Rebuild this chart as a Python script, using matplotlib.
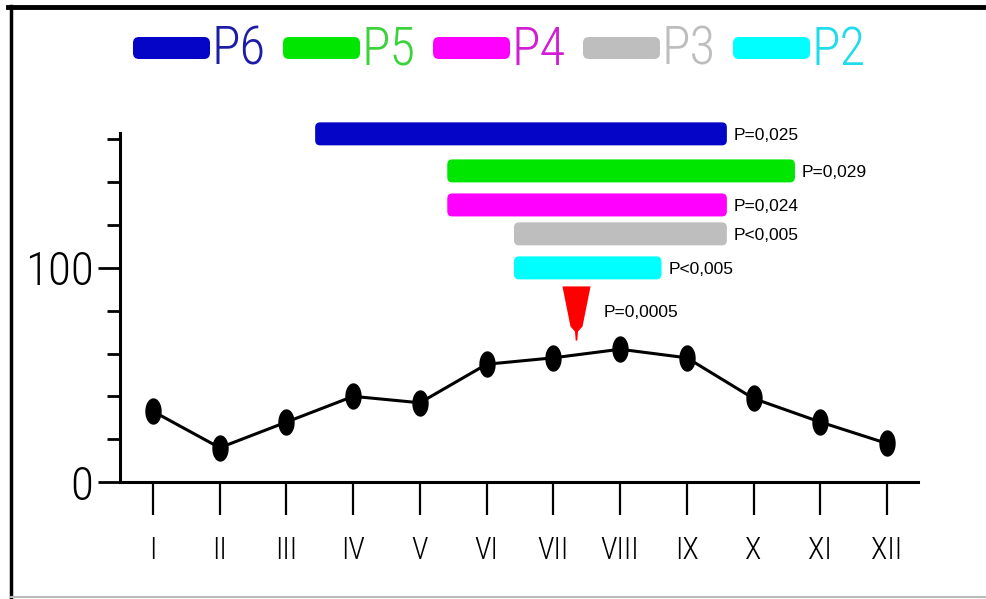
import numpy as np
import matplotlib
matplotlib.use("Agg")
import matplotlib.pyplot as plt
from matplotlib.lines import Line2D
from matplotlib.patches import FancyBboxPatch
from matplotlib.transforms import Affine2D
from matplotlib.ticker import MultipleLocator

W, H = 987, 599
NARROW = ["Roboto Condensed", "Archivo Narrow", "Liberation Sans", "DejaVu Sans"]

# monthly curve
months = ["I", "II", "III", "IV", "V", "VI", "VII", "VIII", "IX", "X", "XI", "XII"]
values = [33, 16, 28, 40, 37, 55, 58, 62, 58, 39, 28, 18]

# period bars (month units along x, level on y)
bar_names = ["P6", "P5", "P4", "P3", "P2"]
bar_start = [3.43, 5.41, 5.41, 6.41, 6.41]
bar_end = [9.60, 10.62, 9.60, 9.60, 8.62]
bar_level = [162.6, 145.3, 129.4, 115.9, 100.0]
bar_pvals = ["P=0,025", "P=0,029", "P=0,024", "P<0,005", "P<0,005"]
bar_colors = ["#0505C8", "#00E600", "#FF00FF", "#BEBEBE", "#00FFFF"]
legend_text_colors = ["#1C1CA8", "#3BD23B", "#D21ED2", "#BDBDBD", "#1FDCEB"]

# red marker
peak_month = 7.34
peak_level = 79.0
peak_label = "P=0,0005"

fig = plt.figure(figsize=(W / 100, H / 100), dpi=100)

# pixel transform (origin top-left)
px = Affine2D().scale(1 / W, -1 / H).translate(0, 1) + fig.transFigure

ax = fig.add_axes([120 / W, 117 / H, (918 - 120) / W, (482 - 133) / H])
x = np.arange(1, len(months) + 1)
ax.set_xlim(0.5055, 12.464)
ax.set_ylim(0, 163)

# data-unit per pixel ratio for rounded bars
x_per_px = (12.464 - 0.5055) / (918 - 120)
y_per_px = 163 / (482 - 133)
aspect = y_per_px / x_per_px

ell = [(0.6 * np.cos(t), np.sin(t)) for t in np.linspace(0, 2 * np.pi, 40)]
ax.plot(x, values, color="black", lw=2.2, marker=ell, markersize=18,
        markerfacecolor="black", markeredgecolor="black", zorder=3)

bar_h = 23 * y_per_px
for s, e, lv, c, p in zip(bar_start, bar_end, bar_level, bar_colors, bar_pvals):
    patch = FancyBboxPatch((s, lv - bar_h / 2), e - s, bar_h,
                           boxstyle="round,pad=0,rounding_size=%f" % (5 * x_per_px),
                           mutation_aspect=aspect, facecolor=c, edgecolor="none",
                           clip_on=False, zorder=2)
    ax.add_patch(patch)
    ax.annotate(p, (e, lv), xytext=(5, -1), textcoords="offset points",
                ha="left", va="center", fontsize=12.5, family="Liberation Sans",
                annotation_clip=False)

funnel = [(-14, 27), (14, 27), (6, -13), (1.5, -18), (0.8, -27), (-0.8, -27),
          (-1.5, -18), (-6, -13), (-14, 27)]
ax.plot([peak_month], [peak_level], marker=funnel, markersize=39,
        color="#FF0000", markeredgewidth=0, linestyle="none", zorder=4)
ax.annotate(peak_label, (peak_month, peak_level), xytext=(20, 0),
            textcoords="offset points", ha="left", va="center", fontsize=12.5,
            family="Liberation Sans", annotation_clip=False)

# axes styling
for sp in ["top", "right"]:
    ax.spines[sp].set_visible(False)
for sp in ["left", "bottom"]:
    ax.spines[sp].set_linewidth(2.2)
ax.set_xticks(x)
ax.set_xticklabels(months, family=NARROW, fontsize=22, fontweight="light")
ax.tick_params(axis="x", direction="out", length=24, width=1.6, pad=15)
ax.set_yticks([0, 100])
ax.set_yticklabels(["0", "100"], family=NARROW, fontsize=34, fontweight="light")
ax.yaxis.set_minor_locator(MultipleLocator(20))
ax.tick_params(axis="y", which="major", direction="out", length=16, width=2, pad=3)
ax.tick_params(axis="y", which="minor", direction="out", length=9.5, width=2)

# legend drawn across the top
leg_x0 = 133
for i, (n, c, tc) in enumerate(zip(bar_names, bar_colors, legend_text_colors)):
    lx = leg_x0 + i * 150
    fig.add_artist(FancyBboxPatch((lx, 37), 77, 22,
                                  boxstyle="round,pad=0,rounding_size=6",
                                  transform=px, facecolor=c, edgecolor="none"))
    fig.text(lx + 79, 50, n, transform=px, color=tc, family=NARROW,
             fontsize=38, fontweight="light", ha="left", va="center")

# frame
fig.add_artist(Line2D([8, W], [7, 7], transform=px, color="black", lw=3.5))
fig.add_artist(Line2D([11, 11], [6, H], transform=px, color="black", lw=2.5))
fig.add_artist(Line2D([11, W], [597, 597], transform=px, color="#BBBBBB", lw=1.5))

fig.savefig("out.png", dpi=100, facecolor="white")
